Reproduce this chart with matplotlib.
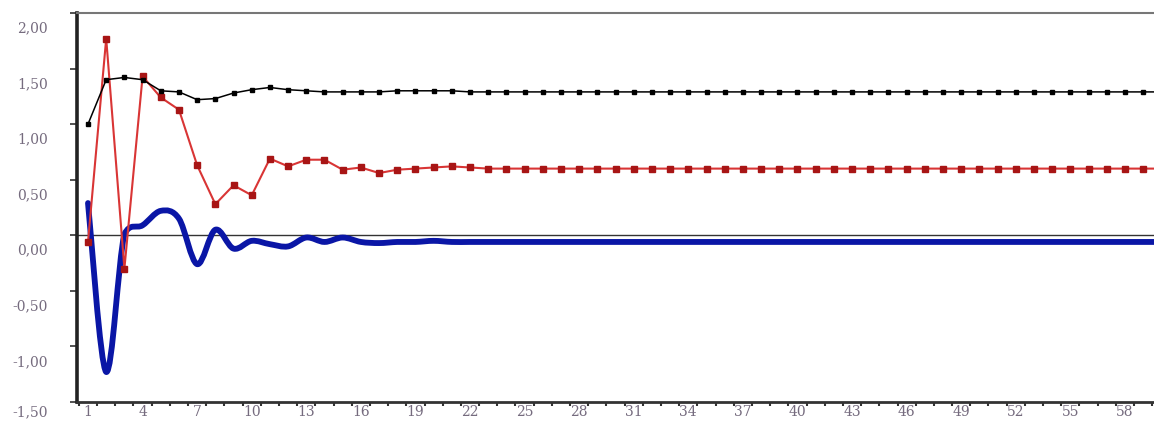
import numpy as np
import matplotlib
matplotlib.use("Agg")
import matplotlib.pyplot as plt
from matplotlib.path import Path
from matplotlib.patches import PathPatch
from matplotlib.transforms import ScaledTranslation
from matplotlib.ticker import FuncFormatter, FixedLocator

# periods 1..60
periods = list(range(1, 61))

black_vals = [1.00, 1.40, 1.42, 1.40, 1.30, 1.29, 1.22, 1.23, 1.28, 1.31,
              1.33, 1.31, 1.30, 1.29, 1.29, 1.29, 1.29, 1.30, 1.30, 1.30,
              1.30, 1.29, 1.29, 1.29, 1.29, 1.29, 1.29, 1.29, 1.29, 1.29,
              1.29, 1.29, 1.29, 1.29, 1.29, 1.29, 1.29, 1.29, 1.29, 1.29,
              1.29, 1.29, 1.29, 1.29, 1.29, 1.29, 1.29, 1.29, 1.29, 1.29,
              1.29, 1.29, 1.29, 1.29, 1.29, 1.29, 1.29, 1.29, 1.29, 1.29]

red_vals = [-0.06, 1.77, -0.30, 1.43, 1.24, 1.13, 0.63, 0.28, 0.45, 0.36,
            0.69, 0.62, 0.68, 0.68, 0.59, 0.61, 0.56, 0.59, 0.60, 0.61,
            0.62, 0.61, 0.60, 0.60, 0.60, 0.60, 0.60, 0.60, 0.60, 0.60,
            0.60, 0.60, 0.60, 0.60, 0.60, 0.60, 0.60, 0.60, 0.60, 0.60,
            0.60, 0.60, 0.60, 0.60, 0.60, 0.60, 0.60, 0.60, 0.60, 0.60,
            0.60, 0.60, 0.60, 0.60, 0.60, 0.60, 0.60, 0.60, 0.60, 0.60]

blue_vals = [0.29, -1.23, 0.01, 0.09, 0.22, 0.15, -0.26, 0.05, -0.12, -0.05,
             -0.08, -0.10, -0.02, -0.06, -0.02, -0.06, -0.07, -0.06, -0.06, -0.05,
             -0.06, -0.06, -0.06, -0.06, -0.06, -0.06, -0.06, -0.06, -0.06, -0.06,
             -0.06, -0.06, -0.06, -0.06, -0.06, -0.06, -0.06, -0.06, -0.06, -0.06,
             -0.06, -0.06, -0.06, -0.06, -0.06, -0.06, -0.06, -0.06, -0.06, -0.06,
             -0.06, -0.06, -0.06, -0.06, -0.06, -0.06, -0.06, -0.06, -0.06, -0.06]

x_labels = list(range(1, 59, 3))
y_ticks = [-1.5, -1.0, -0.5, 0.0, 0.5, 1.0, 1.5, 2.0]

label_color = '#756b7e'
label_font = 'DejaVu Serif'

fig = plt.figure(figsize=(11.54, 4.22), dpi=100)
ax = fig.add_axes([77 / 1154, 20 / 422, 1 - 77 / 1154, 389 / 422])

ax.axhline(0, color='#333333', lw=1.0, zorder=1)

# smoothed line: bezier through the data points, control points kept
# inside each segment's range so it does not overshoot
pts = np.column_stack([periods, blue_vals]).astype(float)
verts = [tuple(pts[0])]
codes = [Path.MOVETO]
for i in range(len(pts) - 1):
    p0 = pts[i - 1] if i > 0 else pts[i]
    p1 = pts[i]
    p2 = pts[i + 1]
    p3 = pts[i + 2] if i + 2 < len(pts) else pts[i + 1]
    c1 = p1 + (p2 - p0) / 6
    c2 = p2 - (p3 - p1) / 6
    lo, hi = min(p1[1], p2[1]), max(p1[1], p2[1])
    if p1[1] != p2[1]:
        c1[1] = np.clip(c1[1], lo - 0.03, hi + 0.03)
        c2[1] = np.clip(c2[1], lo - 0.03, hi + 0.03)
    verts += [tuple(c1), tuple(c2), tuple(p2)]
    codes += [Path.CURVE4] * 3
ax.add_patch(PathPatch(Path(verts, codes), fill=False, edgecolor='#0a16a6',
                       lw=4.2, capstyle='round', joinstyle='round', zorder=3))

ax.plot(periods, red_vals, color='#d93535', lw=1.5, marker='s', ms=4,
        mfc='#a81515', mec='#a81515', zorder=4)
ax.plot(periods, black_vals, color='black', lw=1.1, marker='s', ms=3.3,
        mfc='black', mec='black', zorder=5)

ax.set_xlim(0.395, 59.6)
ax.set_ylim(-1.5, 2.0)

ax.yaxis.set_major_locator(FixedLocator(y_ticks))
ax.yaxis.set_major_formatter(FuncFormatter(lambda v, p: f"{v:.2f}".replace('.', ',')))
ax.tick_params(axis='y', direction='out', length=5, width=1.2, color='#333333',
               pad=16, labelsize=10, labelcolor=label_color)

ax.xaxis.set_major_locator(FixedLocator(x_labels))
ax.xaxis.set_minor_locator(FixedLocator([k + 0.5 for k in range(0, 60)]))
ax.tick_params(axis='x', which='major', length=0, pad=2, labelsize=10,
               labelcolor=label_color)
ax.tick_params(axis='x', which='minor', direction='out', length=3, width=1.5,
               color='#333333')

for lab in ax.get_xticklabels() + ax.get_yticklabels():
    lab.set_fontfamily(label_font)

# y labels sit a little below their tick marks in the original
ylabs = ax.get_yticklabels()
for i, lab in enumerate(ylabs):
    dy = 9 if i == 0 else 14
    lab.set_transform(lab.get_transform() +
                      ScaledTranslation(0, -dy / 100, fig.dpi_scale_trans))

ax.spines['left'].set_linewidth(2.6)
ax.spines['left'].set_color('#222222')
ax.spines['bottom'].set_linewidth(2.0)
ax.spines['bottom'].set_color('#333333')
ax.spines['top'].set_linewidth(1.5)
ax.spines['top'].set_color('#777777')
ax.spines['right'].set_visible(False)

fig.savefig('out.png', dpi=100)
